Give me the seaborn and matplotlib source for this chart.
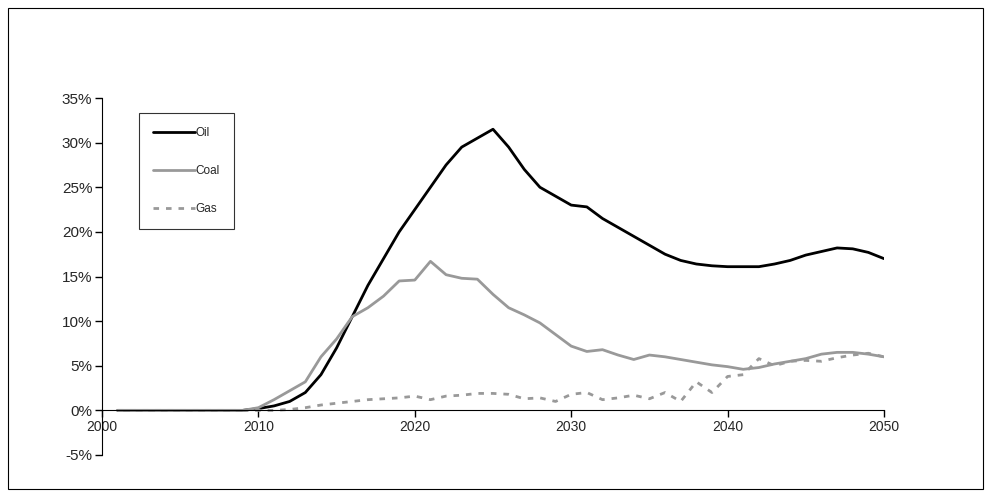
import matplotlib
matplotlib.use("Agg")
import matplotlib.pyplot as plt
import seaborn as sns
import pandas as pd
from matplotlib.patches import Rectangle

years = list(range(2001, 2051))
oil = [0]*9 + [0.2,0.5,1.0,2.0,4.0,7.0,10.5,14,17,20,22.5,25,27.5,29.5,30.5,31.5,29.5,27,25,24,23,22.8,21.5,20.5,19.5,18.5,17.5,16.8,16.4,16.2,16.1,16.1,16.1,16.4,16.8,17.4,17.8,18.2,18.1,17.7,17.0]
coal = [0]*9 + [0.3,1.2,2.2,3.2,6,8,10.5,11.5,12.8,14.5,14.6,16.7,15.2,14.8,14.7,13,11.5,10.7,9.8,8.5,7.2,6.6,6.8,6.2,5.7,6.2,6,5.7,5.4,5.1,4.9,4.6,4.8,5.2,5.5,5.8,6.3,6.5,6.5,6.3,6.0]
gas = [0]*10 + [0,0.1,0.3,0.6,0.8,1.0,1.2,1.3,1.4,1.6,1.2,1.6,1.7,1.9,1.9,1.8,1.3,1.4,1.0,1.8,2.0,1.2,1.4,1.7,1.3,2.0,1.0,3.2,2.0,3.8,4.0,5.8,5.0,5.5,5.6,5.5,5.9,6.2,6.4,6.0]

df = pd.DataFrame({"year": years, "Oil": oil, "Coal": coal, "Gas": gas})
sns.set_style("white")
plt.rcParams['font.family'] = ['Liberation Sans', 'DejaVu Sans']
fig = plt.figure(figsize=(9.91, 4.97), dpi=100)
fig.patches.append(Rectangle((8/991, 8/497), 975/991, 481/497, transform=fig.transFigure,
                             fill=False, edgecolor='black', linewidth=0.8))
ax = fig.add_axes([102/991, 1-455/497, 782/991, 357/497])
sns.lineplot(data=df, x="year", y="Oil", ax=ax, color="black", lw=2, label="Oil")
sns.lineplot(data=df, x="year", y="Coal", ax=ax, color="#999999", lw=2, label="Coal")
sns.lineplot(data=df, x="year", y="Gas", ax=ax, color="#999999", lw=2, ls=(0, (2, 2.5)), label="Gas")
ax.set_xlim(2000, 2050)
ax.set_ylim(-5, 35)
ax.set_yticks(range(-5, 36, 5))
ax.set_yticklabels([f"{v}%" for v in range(-5, 36, 5)], fontsize=11)
ax.set_xticks(range(2000, 2051, 10))
ax.set_xticklabels([str(v) for v in range(2000, 2051, 10)], fontsize=11)
ax.set_xlabel(""); ax.set_ylabel("")
for s in ["top", "right"]:
    ax.spines[s].set_visible(False)
ax.spines["bottom"].set_position(("data", 0))
ax.spines["left"].set_color("black"); ax.spines["bottom"].set_color("black")
ax.tick_params(axis="both", direction="out", length=5, color="black", width=1, bottom=True, left=True, pad=2)
leg = ax.legend(loc="upper left", bbox_to_anchor=(0.04, 0.975), frameon=True, fancybox=False,
                edgecolor="black", fontsize=8.5, labelspacing=2.2, handlelength=3.5, borderpad=1.2, handletextpad=0.1)
leg.get_frame().set_linewidth(0.8)
fig.savefig("out.png", dpi=100)
